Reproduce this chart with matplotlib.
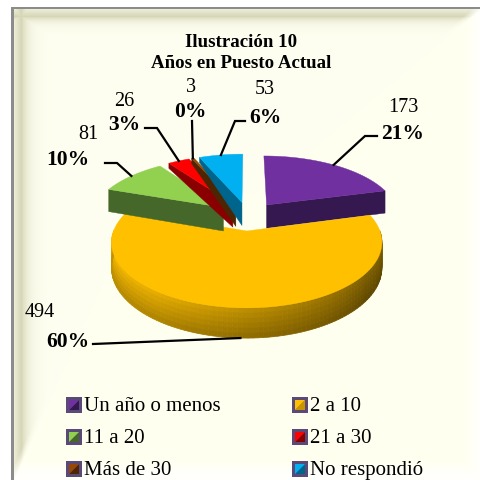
import numpy as np
import matplotlib.pyplot as plt
from matplotlib.colors import to_rgb
from matplotlib.patches import Polygon, Rectangle

plt.rcParams['font.family'] = ['Liberation Serif', 'DejaVu Serif']

categorias = ['Un año o menos', '2 a 10', '11 a 20', '21 a 30', 'Más de 30', 'No respondió']
valores = [173, 494, 81, 26, 3, 53]
titulo = 'Ilustración 10\nAños en Puesto Actual'

cor_topo = ['#7030A0', '#FFC000', '#92D050', '#FF0000', '#974806', '#00B0F0']
cor_lado = ['#35184F', '#C79500', '#46672A', '#8A0000', '#4E2503', '#00658C']

# geometria da pizza, em pixels
cx, cy = 248, 217
a, b = 131, 60
persp = 0.17
expl = 0.24
altura = 24
altura_borda = [24, 24, 24, 6, 6, 6]
raio = [1.015, 0.975, 1.015, 1.015, 1.015, 1.015]

# (x, y) do cotovelo e do fim de cada linha de chamada, e do texto
cotovelo = [(365, 137), (93, 345), (117, 164), (157, 129), (192, 122), (235, 122)]
fim = [(377, 137), (93, 345), (105, 164), (145, 129), (192, 122), (245, 122)]
pos_num = [(403, 108), (40, 313), (88, 135), (124, 101), (191, 87), (265, 90)]
pos_pct = [(403, 134), (68, 342), (68, 160), (124, 125), (190, 112), (265, 118)]


def projeta(u, v, z=0):
    d = 1 + persp * v
    return cx + a * u / d, cy - b * v / d + z / d


def ponto(th, r, ox, oy, z=0):
    return projeta(ox + r * np.sin(th), oy + r * np.cos(th), z)


fig = plt.figure(figsize=(4.81, 4.81), dpi=100)
ax = fig.add_axes([0, 0, 1, 1])
ax.set_xlim(0, 481)
ax.set_ylim(481, 0)
ax.axis('off')

# fundo com chanfro
xx, yy = np.meshgrid(np.arange(481), np.arange(481))
esq = np.where(xx < 21, 0.45 + 0.55 * (xx - 14) / 7, np.exp(-(xx - 21) / 7.0))
topo = np.where(yy < 17, 0.45 + 0.55 * (yy - 10) / 7, np.exp(-(yy - 17) / 5.0))
esq = esq * np.clip((480 - (xx - 14) * 2.2 - yy) / 15, 0, 1)
topo = topo * np.clip((481 - (yy - 10) * 1.2 - xx) / 10, 0, 1)
forca = np.clip(np.maximum(esq, topo), 0, 1)[:, :, None]
base = np.ones((481, 481, 3)) * np.array([1.0, 1.0, 0.945])
claro = np.clip(np.maximum((yy - 462) / 12.0, (xx - 465) / 12.0), 0, 1)[:, :, None]
base = base + (np.array([1.0, 1.0, 0.985]) - base) * claro
fundo = base + (np.array([0.84, 0.84, 0.72]) - base) * forca
fundo[xx < 14] = 1
fundo[yy < 10] = 1
fundo[(xx >= 11) & (xx < 14) & (yy >= 8)] = (0.55, 0.55, 0.55)
fundo[(yy >= 8) & (yy < 10) & (xx >= 11)] = (0.55, 0.55, 0.55)
ax.imshow(fundo, extent=(0, 481, 481, 0), aspect='auto', zorder=0)

total = sum(valores)
fim_ang = np.cumsum(valores) / total * 2 * np.pi
ini_ang = np.r_[0, fim_ang[:-1]]

ordem = [0, 5, 4, 3, 2, 1]
for i in ordem:
    t0, t1 = ini_ang[i], fim_ang[i]
    meio = (t0 + t1) / 2
    ox, oy = expl * np.sin(meio), expl * np.cos(meio)
    ts = np.linspace(t0, t1, 120)
    z = 5 + i
    r = raio[i]

    # paredes radiais
    for th, visivel in ((t0, np.sin(t0) < 0), (t1, np.sin(t1) > 0)):
        if visivel:
            pts = [ponto(th, 0, ox, oy), ponto(th, r, ox, oy),
                   ponto(th, r, ox, oy, altura_borda[i]), ponto(th, 0, ox, oy, altura)]
            ax.add_patch(Polygon(pts, fc=cor_lado[i], ec=cor_lado[i], lw=0.3, zorder=z))

    # parede externa, com sombreado
    for t_a, t_b in zip(ts[:-1], ts[1:]):
        if np.cos((t_a + t_b) / 2) > 0.02:
            continue
        luz = np.interp(np.degrees(t_a), [90, 125, 180, 215, 285], [0.42, 0.44, 0.66, 0.8, 0.9])
        cor = np.array(to_rgb(cor_topo[i])) * luz
        niveis = np.linspace(0, altura_borda[i], 7)
        for k, (z0, z1) in enumerate(zip(niveis[:-1], niveis[1:])):
            cor_k = np.clip(cor * (1.12 - 0.05 * k), 0, 1)
            pts = [ponto(t_a, r, ox, oy, z0), ponto(t_b, r, ox, oy, z0),
                   ponto(t_b, r, ox, oy, z1), ponto(t_a, r, ox, oy, z1)]
            ax.add_patch(Polygon(pts, fc=cor_k, ec=cor_k, lw=0.5, zorder=z))

    # topo
    pts = [ponto(t0, 0, ox, oy)] + [ponto(th, r, ox, oy) for th in ts]
    ax.add_patch(Polygon(pts, fc=cor_topo[i], ec=cor_topo[i], lw=0.3, zorder=z))

    # linha de chamada e textos
    if i == 1:
        inicio = ponto(meio, r, ox, oy, altura)
    else:
        inicio = ponto(meio, r, ox, oy)
    ax.plot([inicio[0], cotovelo[i][0], fim[i][0]], [inicio[1], cotovelo[i][1], fim[i][1]],
            color='black', lw=1.6, solid_joinstyle='miter', zorder=20)
    ax.text(pos_num[i][0], pos_num[i][1], str(valores[i]), fontsize=14.5,
            ha='center', va='center', zorder=21)
    ax.text(pos_pct[i][0], pos_pct[i][1], '%d%%' % round(100 * valores[i] / total),
            fontsize=15.5, fontweight='bold', ha='center', va='center', zorder=21)

ax.text(241, 53, titulo, fontsize=13.6, fontweight='bold', ha='center', va='center',
        linespacing=1.3, zorder=21)

# legenda
leg_x = [66, 292]
leg_y = [406, 438, 470]
for i, nome in enumerate(categorias):
    x = leg_x[i % 2]
    y = leg_y[i // 2]
    ax.add_patch(Rectangle((x, y - 8), 16, 16, fc='#5B4A78', ec='none', zorder=10))
    ax.add_patch(Polygon([(x + 3, y + 5), (x + 13, y - 5), (x + 13, y + 5)],
                         fc=cor_lado[i], ec='none', zorder=11))
    ax.add_patch(Polygon([(x + 3, y + 5), (x + 13, y - 5), (x + 3, y - 5)],
                         fc=cor_topo[i], ec='none', zorder=11))
    ax.text(x + 18, y + 5, nome, fontsize=15, ha='left', va='baseline', zorder=21)

fig.savefig('out.png', dpi=100)
